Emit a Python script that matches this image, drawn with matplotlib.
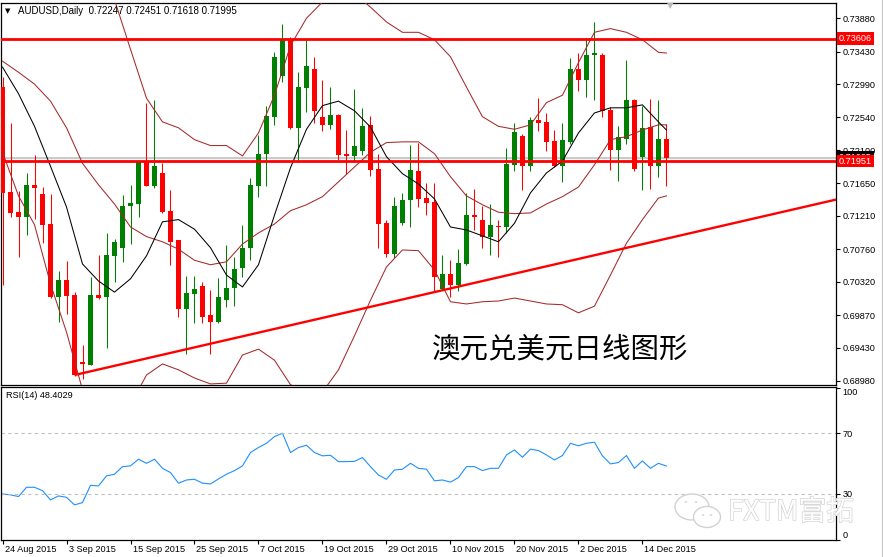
import numpy as np
import matplotlib.pyplot as plt
import matplotlib.transforms as mtransforms
import matplotlib.patheffects as pe
from matplotlib.patches import Ellipse, Circle
from matplotlib.lines import Line2D

plt.rcParams['font.family'] = ['Liberation Sans', 'DejaVu Sans']

# AUDUSD 日线，从 2015-08-24 开始的 84 根 K 线
symbol = "AUDUSD,Daily"
opens = [0.7295, 0.7153, 0.7126, 0.7119, 0.7163, 0.7151, 0.7110, 0.7011, 0.7035, 0.7014,
         0.6923, 0.6920, 0.7014, 0.7012, 0.7067, 0.7078, 0.7134, 0.7137, 0.7194, 0.7162,
         0.7179, 0.7127, 0.7088, 0.6995, 0.7016, 0.7026, 0.6987, 0.6977, 0.7008, 0.7023,
         0.7051, 0.7077, 0.7162, 0.7204, 0.7255, 0.7310, 0.7360, 0.7240, 0.7294, 0.7320,
         0.7254, 0.7244, 0.7257, 0.7205, 0.7202, 0.7209, 0.7244, 0.7184, 0.7112, 0.7070,
         0.7112, 0.7142, 0.7182, 0.7145, 0.7140, 0.7022, 0.7043, 0.7027, 0.7056, 0.7122,
         0.7116, 0.7092, 0.7108, 0.7106, 0.7190, 0.7229, 0.7188, 0.7251, 0.7248, 0.7222,
         0.7189, 0.7221, 0.7319, 0.7304, 0.7338, 0.7338, 0.7264, 0.7210, 0.7225, 0.7278,
         0.7200, 0.7241, 0.7189, 0.72247]
highs = [0.7309, 0.7247, 0.7155, 0.7179, 0.7203, 0.7160, 0.7151, 0.7047, 0.7060, 0.7018,
         0.6947, 0.7038, 0.7068, 0.7098, 0.7090, 0.7149, 0.7163, 0.7195, 0.7273, 0.7278,
         0.7193, 0.7156, 0.7089, 0.7040, 0.7040, 0.7032, 0.7021, 0.7037, 0.7082, 0.7065,
         0.7109, 0.7172, 0.7230, 0.7270, 0.7343, 0.7380, 0.7362, 0.7316, 0.7361, 0.7336,
         0.7305, 0.7295, 0.7258, 0.7237, 0.7293, 0.7267, 0.7256, 0.7205, 0.7116, 0.7147,
         0.7152, 0.7217, 0.7220, 0.7166, 0.7166, 0.7068, 0.7061, 0.7076, 0.7152, 0.7157,
         0.7134, 0.7137, 0.7116, 0.7213, 0.7247, 0.7231, 0.7255, 0.7280, 0.7260, 0.7237,
         0.7247, 0.7334, 0.7341, 0.7361, 0.7383, 0.7341, 0.7268, 0.7242, 0.7332, 0.7279,
         0.7269, 0.7279, 0.7278, 0.72451]
lows = [0.7028, 0.7120, 0.7066, 0.7095, 0.7117, 0.7084, 0.7010, 0.6978, 0.6989, 0.6905,
        0.6900, 0.6919, 0.7009, 0.6943, 0.7032, 0.7059, 0.7083, 0.7120, 0.7161, 0.7159,
        0.7125, 0.7054, 0.6985, 0.6935, 0.6976, 0.6976, 0.6934, 0.6976, 0.6998, 0.6999,
        0.7039, 0.7062, 0.7147, 0.7162, 0.7244, 0.7302, 0.7239, 0.7194, 0.7262, 0.7246,
        0.7236, 0.7238, 0.7197, 0.7178, 0.7194, 0.7203, 0.7175, 0.7077, 0.7066, 0.7064,
        0.7109, 0.7106, 0.7133, 0.7122, 0.7019, 0.7021, 0.7012, 0.7020, 0.7055, 0.7102,
        0.7077, 0.7068, 0.7066, 0.7098, 0.7181, 0.7156, 0.7182, 0.7236, 0.7208, 0.7187,
        0.7167, 0.7218, 0.7290, 0.7281, 0.7277, 0.7254, 0.7183, 0.7168, 0.7218, 0.7182,
        0.7156, 0.7157, 0.7173, 0.71618]
closes = [0.7152, 0.7125, 0.7119, 0.7163, 0.7159, 0.7109, 0.7011, 0.7035, 0.7013, 0.6906,
          0.6921, 0.7014, 0.7010, 0.7068, 0.7086, 0.7134, 0.7139, 0.7194, 0.7162, 0.7189,
          0.7126, 0.7086, 0.6995, 0.7017, 0.7022, 0.6985, 0.6977, 0.7012, 0.7024, 0.7049,
          0.7078, 0.7163, 0.7205, 0.7256, 0.7336, 0.7360, 0.7240, 0.7295, 0.7323, 0.7263,
          0.7244, 0.7257, 0.7203, 0.7202, 0.7215, 0.7242, 0.7183, 0.7110, 0.7070, 0.7134,
          0.7143, 0.7183, 0.7144, 0.7139, 0.7038, 0.7043, 0.7027, 0.7058, 0.7122, 0.7120,
          0.7092, 0.7109, 0.7106, 0.7191, 0.7234, 0.7188, 0.7251, 0.7247, 0.7221, 0.7188,
          0.7224, 0.7319, 0.7304, 0.7338, 0.7341, 0.7263, 0.7210, 0.7227, 0.7278, 0.7184,
          0.7240, 0.7189, 0.7225, 0.71995]

# 均线与布林带读数 (每两根 K 线一个点)
line_idx = list(range(0, 83, 2)) + [83]
ma_fast = [0.7322, 0.7286, 0.7242, 0.7188, 0.7133, 0.7056, 0.7033, 0.7018, 0.7036, 0.7067,
           0.7113, 0.7116, 0.7103, 0.7078, 0.7041, 0.7025, 0.7055, 0.7122, 0.7186, 0.7238,
           0.7270, 0.7276, 0.7263, 0.7241, 0.7201, 0.7178, 0.7164, 0.7144, 0.7106, 0.7102,
           0.7094, 0.7086, 0.7111, 0.7152, 0.7179, 0.7195, 0.7233, 0.7260, 0.7267, 0.7267,
           0.7271, 0.7248, 0.7237]
bb_mid = [0.7330, 0.7315, 0.7299, 0.7276, 0.7240, 0.7192, 0.7163, 0.7137, 0.7106, 0.7093,
          0.7086, 0.7076, 0.7061, 0.7055, 0.7059, 0.7083, 0.7098, 0.7110, 0.7128, 0.7136,
          0.7147, 0.7167, 0.7187, 0.7207, 0.7220, 0.7221, 0.7221, 0.7205, 0.7174, 0.7148,
          0.7136, 0.7126, 0.7124, 0.7125, 0.7137, 0.7147, 0.7160, 0.7190, 0.7224, 0.7228,
          0.7237, 0.7244, 0.7244]
bb_up = [0.7450, 0.7483, 0.7488, 0.7523, 0.7515, 0.7499, 0.7440, 0.7413, 0.7346, 0.7280,
         0.7248, 0.7240, 0.7224, 0.7216, 0.7216, 0.7202, 0.7233, 0.7284, 0.7351, 0.7388,
         0.7410, 0.7424, 0.7421, 0.7403, 0.7383, 0.7369, 0.7369, 0.7359, 0.7336, 0.7295,
         0.7255, 0.7242, 0.7238, 0.7244, 0.7274, 0.7284, 0.7328, 0.7369, 0.7374, 0.7369,
         0.7359, 0.7342, 0.7341]
bb_low = [0.7207, 0.7148, 0.7109, 0.7029, 0.6964, 0.6886, 0.6886, 0.6862, 0.6866, 0.6906,
          0.6921, 0.6913, 0.6902, 0.6894, 0.6895, 0.6933, 0.6941, 0.6926, 0.6893, 0.6883,
          0.6883, 0.6913, 0.6959, 0.7007, 0.7052, 0.7075, 0.7074, 0.7048, 0.7005, 0.7002,
          0.7005, 0.7006, 0.7010, 0.7006, 0.7002, 0.7001, 0.6990, 0.6999, 0.7041, 0.7084,
          0.7116, 0.7145, 0.7148]

rsi = [30.0, 29.4, 28.3, 34.4, 34.4, 32.2, 26.1, 28.7, 27.8, 22.8,
       24.3, 35.7, 35.3, 41.9, 43.0, 48.0, 48.5, 52.9, 50.2, 52.9,
       46.9, 44.1, 37.1, 39.2, 39.7, 37.1, 36.6, 39.9, 43.0, 45.4,
       48.5, 57.3, 60.6, 63.4, 67.8, 70.0, 57.3, 60.6, 62.1, 57.3,
       55.1, 55.5, 51.3, 51.3, 51.5, 54.0, 48.0, 42.5, 39.7, 45.8,
       46.3, 50.2, 46.9, 46.3, 38.7, 39.2, 37.8, 40.8, 48.0, 48.0,
       45.4, 46.9, 46.9, 55.7, 59.0, 54.2, 59.5, 58.6, 55.7, 52.4,
       55.3, 63.4, 61.7, 63.4, 64.1, 55.1, 49.8, 50.7, 55.3, 46.9,
       51.8, 46.9, 50.2, 48.4029]

date_ticks = [0, 8, 16, 24, 32, 40, 48, 56, 64, 72, 80]
date_labels = ["24 Aug 2015", "3 Sep 2015", "15 Sep 2015", "25 Sep 2015", "7 Oct 2015",
               "19 Oct 2015", "29 Oct 2015", "10 Nov 2015", "20 Nov 2015", "2 Dec 2015",
               "14 Dec 2015"]
price_ticks = [0.73880, 0.73430, 0.72990, 0.72540, 0.72100, 0.71650,
               0.71210, 0.70760, 0.70320, 0.69870, 0.69430, 0.68980]
rsi_ticks = [100, 70, 30, 0]

resist_level = 0.73606
support_level = 0.71951
bid_price = 0.71995
trend_start = (9, 0.6906)
trend_end = (104.2, 0.7143)

W, H = 883, 557
fig = plt.figure(figsize=(W / 100, H / 100), dpi=100)
ax = fig.add_axes([1 / W, 1 - 384.5 / H, 835 / W, 381.5 / H])
ax_rsi = fig.add_axes([1 / W, 1 - 539.5 / H, 835 / W, 153 / H], sharex=ax)

# K 线
x = np.arange(len(opens))
o, h, l, c = map(np.array, (opens, highs, lows, closes))
colors = np.where(c >= o, '#008000', '#ff0000')
ax.vlines(x, l, h, colors=colors, linewidth=0.75, zorder=3)
body_lo = np.minimum(o, c)
body_h = np.maximum(np.abs(c - o), 0.00012)
ax.bar(x, body_h, width=0.62, bottom=body_lo, color=colors, linewidth=0, zorder=3)

# 指标线
bb_color = '#a52a2a'
ax.plot(line_idx, bb_up, color=bb_color, lw=0.75, zorder=4)
ax.plot(line_idx, bb_mid, color=bb_color, lw=0.75, zorder=4)
ax.plot(line_idx, bb_low, color=bb_color, lw=0.75, zorder=4)
ax.plot(line_idx, ma_fast, color='black', lw=0.75, zorder=4)

# 水平线与趋势线
ax.axhline(bid_price, color='#c0c0c0', lw=1.2, zorder=2)
ax.axhline(resist_level, color='#ff0000', lw=2, zorder=5)
ax.axhline(support_level, color='#ff0000', lw=2, zorder=5)
ax.plot([trend_start[0], trend_end[0]], [trend_start[1], trend_end[1]],
        color='#ff0000', lw=1.7, zorder=5, solid_capstyle='butt')

ax.set_xlim(-0.19, 104.2)
ax.set_ylim(0.68932, 0.74086)
ax.yaxis.tick_right()
ax.set_yticks(price_ticks)
ax.set_yticklabels([f"{v:.5f}" for v in price_ticks])
ax.tick_params(axis='y', direction='out', length=3, width=0.8, pad=1.5, labelsize=6.6)
ax.tick_params(axis='x', bottom=False, labelbottom=False)
for s in ax.spines.values():
    s.set_linewidth(0.9)

# 价格标签 (买价标签大部分被支撑位标签盖住)
trans = mtransforms.blended_transform_factory(ax.transAxes, ax.transData)
ax.text(1.0 + 3 / 835, bid_price, f"{bid_price:.5f}", transform=trans, color='white',
        fontsize=6.6, va='center', ha='left', clip_on=False, zorder=10,
        bbox=dict(boxstyle='square,pad=0.2', fc='black', ec='none'))
for lvl in (resist_level, support_level):
    ax.text(1.0 + 3 / 835, lvl, f"{lvl:.5f}", transform=trans, color='white',
            fontsize=6.6, va='center', ha='left', clip_on=False, zorder=11,
            bbox=dict(boxstyle='square,pad=0.2', fc='#ff0000', ec='none'))

ax.text(0.516, 0.092, "澳元兑美元日线图形", transform=ax.transAxes, fontsize=20.5,
        family=['Noto Sans CJK SC'], va='center', ha='left', color='black', zorder=6)

# RSI
ax_rsi.plot(x, rsi, color='#1e90ff', lw=0.8)
for lv in (70, 30):
    ax_rsi.axhline(lv, color='#c0c0c0', lw=0.8, ls=(0, (3, 3)))
ax_rsi.set_ylim(0, 100.8)
ax_rsi.yaxis.tick_right()
ax_rsi.set_yticks(rsi_ticks)
ax_rsi.set_yticklabels([str(v) for v in rsi_ticks])
ax_rsi.tick_params(axis='y', direction='out', length=3, width=0.8, pad=1.5, labelsize=6.6)
labels = ax_rsi.get_yticklabels()
labels[0].set_va('top')
labels[-1].set_va('bottom')
ax_rsi.set_xticks(date_ticks)
ax_rsi.set_xticklabels(date_labels)
ax_rsi.tick_params(axis='x', direction='out', length=3, width=0.8, pad=1, labelsize=6.6)
shift = mtransforms.ScaledTranslation(2 / 100, 0, fig.dpi_scale_trans)
for lbl in ax_rsi.get_xticklabels():
    lbl.set_ha('left')
    lbl.set_transform(lbl.get_transform() + shift)
for s in ax_rsi.spines.values():
    s.set_linewidth(0.9)

# 标题与说明文字
fig.text(8 / W, 1 - 11 / H, "▼", fontsize=5, family=['DejaVu Sans'], va='center', ha='center')
fig.text(18 / W, 1 - 11 / H,
         f"{symbol}  {opens[-1]:.5f} {highs[-1]:.5f} {lows[-1]:.5f} {closes[-1]:.5f}",
         fontsize=7, va='center', ha='left')
fig.text(6 / W, 1 - 396 / H, f"RSI(14) {rsi[-1]:.4f}", fontsize=6.6, va='center', ha='left')
fig.text(670 / W, 1 - 6 / H, "▼", fontsize=6, family=['DejaVu Sans'], color='#b8b8b8',
         va='center', ha='center')

# 右侧细边线
fig.add_artist(Line2D([881.5 / W, 881.5 / W], [0, 1], transform=fig.transFigure,
                      color='#c8c8c8', lw=0.8))

# 水印
wm = '#d2d2d2'
fig.add_artist(Ellipse((692 / W, 1 - 507 / H), 34 / W, 26 / H, transform=fig.transFigure,
                       fc='white', ec=wm, lw=1.0))
fig.add_artist(Ellipse((707 / W, 1 - 517 / H), 27 / W, 21 / H, transform=fig.transFigure,
                       fc='white', ec=wm, lw=1.0))
for ex, ey in [(686, 502), (696, 502), (703, 515), (711, 515)]:
    fig.add_artist(Circle((ex / W, 1 - ey / H), 1.3 / W, transform=fig.transFigure,
                          fc=wm, ec='none'))
fig.text(728 / W, 1 - 512 / H, "FXTM富拓", fontsize=20, color='white',
         family=['Noto Sans CJK SC'], va='center', ha='left',
         path_effects=[pe.withStroke(linewidth=1.0, foreground=wm)])

fig.savefig("out.png", dpi=100)
